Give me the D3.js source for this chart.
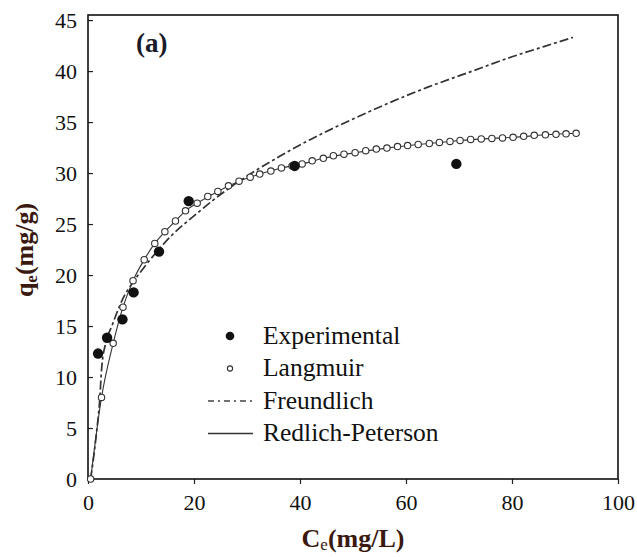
<!DOCTYPE html>
<html>
<head>
<meta charset="utf-8">
<script src="https://cdn.jsdelivr.net/npm/d3@7"></script>
<style>
  body { margin: 0; background: #fff; }
</style>
</head>
<body>
<div id="chart"></div>
<script>
var FONT = "'Liberation Serif', 'DejaVu Serif', 'Times New Roman', Times, serif";

// experimental points
var expC = [1.9, 3.6, 6.5, 8.6, 13.4, 19.0, 39.0, 69.5];
var expQ = [12.3, 13.85, 15.65, 18.3, 22.3, 27.25, 30.7, 30.9];

// Langmuir fit (open circles)
var langC = [0.5, 2.55, 4.75, 6.6, 8.5, 10.6, 12.6, 14.5, 16.5, 18.4,
             20.6, 22.6, 24.5, 26.5, 28.5, 30.6, 32.4, 34.5, 36.5, 38.5,
             40.4, 42.3, 44.4, 46.3, 48.3, 50.4, 52.4, 54.4, 56.4, 58.4,
             60.3, 62.3, 64.4, 66.3, 68.3, 70.2, 72.2, 74.2, 76.2, 78.2,
             80.2, 82.2, 84.2, 86.3, 88.3, 90.2, 92.1];
var langQ = [0, 8.0, 13.3, 16.85, 19.45, 21.5, 23.1, 24.25, 25.3, 26.3,
             27.05, 27.7, 28.2, 28.75, 29.2, 29.6, 29.9, 30.2, 30.5, 30.7,
             30.9, 31.2, 31.45, 31.7, 31.85, 32.0, 32.2, 32.35, 32.45, 32.6,
             32.7, 32.8, 32.9, 33.0, 33.1, 33.2, 33.3, 33.35, 33.4, 33.45,
             33.5, 33.6, 33.7, 33.75, 33.8, 33.85, 33.9];

// Freundlich fit (dash-dot)
var frC = [0.5, 1.6, 2.2, 2.6, 3.5, 4.5, 6.5, 8.5, 10.5, 13, 16, 20, 25, 30,
           36, 42, 50, 56, 64, 72, 80, 86, 91.5];
var frQ = [0, 4.5, 7.7, 11.0, 13.6, 15.0, 17.6, 19.3, 20.7, 22.3, 24.0, 25.8,
           27.9, 29.7, 31.6, 33.3, 35.3, 36.7, 38.4, 39.9, 41.4, 42.4, 43.3];

// Redlich-Peterson fit (solid, runs through the Langmuir circles)
var rpC = [0.5, 2.55, 4.75, 6.6, 8.5, 10.6, 12.6, 14.5, 16.5, 18.4, 20.6,
           24.5, 28.5, 32.4, 36.5, 40.4, 44.4, 50.4, 56.4, 62.3, 68.3, 74.2,
           80.2, 86.3, 92.1];
var rpQ = [0, 8.0, 13.3, 16.85, 19.45, 21.5, 23.1, 24.25, 25.3, 26.3, 27.05,
           28.2, 29.2, 29.9, 30.5, 30.9, 31.45, 32.0, 32.45, 32.8, 33.1, 33.35,
           33.5, 33.75, 33.9];

var xTicks = [0, 20, 40, 60, 80, 100];
var yTicks = [0, 5, 10, 15, 20, 25, 30, 35, 40, 45];
var legendNames = ["Experimental", "Langmuir", "Freundlich", "Redlich-Peterson"];

var W = 637, H = 557;
var L = 88, R = 618, T = 15, B = 479;

var svg = d3.select("#chart").append("svg")
  .attr("width", W)
  .attr("height", H)
  .style("background", "#fff");

var x = d3.scaleLinear().domain([0, 100]).range([L, R]);
var y = d3.scaleLinear().domain([0, 45.5]).range([B, T]);

// axes
var xAxis = svg.append("g")
  .attr("transform", "translate(0," + B + ")")
  .call(d3.axisBottom(x).tickValues(xTicks).tickSizeInner(5).tickSizeOuter(0).tickPadding(10));
var yAxis = svg.append("g")
  .attr("transform", "translate(" + L + ",0)")
  .call(d3.axisLeft(y).tickValues(yTicks).tickSizeInner(-5).tickSizeOuter(0).tickPadding(12));

[xAxis, yAxis].forEach(function (a) {
  a.attr("font-family", null).attr("font-size", null);
  a.select(".domain").remove();
  a.selectAll(".tick line").attr("stroke", "#222").attr("stroke-width", 1.2);
  a.selectAll(".tick text")
    .style("font-family", FONT)
    .style("font-size", "22px")
    .attr("fill", "#111");
});
yAxis.selectAll(".tick text").attr("x", -11);

// frame
svg.append("rect")
  .attr("x", L).attr("y", T)
  .attr("width", R - L).attr("height", B - T)
  .attr("fill", "none")
  .attr("stroke", "#111")
  .attr("stroke-width", 1.6);

var plot = svg.append("g");

// Freundlich
var frData = frC.map(function (c, i) { return [c, frQ[i]]; });
plot.append("path")
  .datum(frData)
  .attr("d", d3.line().x(d => x(d[0])).y(d => y(d[1])).curve(d3.curveMonotoneX))
  .attr("fill", "none")
  .attr("stroke", "#333")
  .attr("stroke-width", 1.7)
  .attr("stroke-dasharray", "9,3,3,3");

// Redlich-Peterson
var rpData = rpC.map(function (c, i) { return [c, rpQ[i]]; });
plot.append("path")
  .datum(rpData)
  .attr("d", d3.line().x(d => x(d[0])).y(d => y(d[1])).curve(d3.curveMonotoneX))
  .attr("fill", "none")
  .attr("stroke", "#333")
  .attr("stroke-width", 1.1);

// Langmuir circles
var langData = langC.map(function (c, i) { return [c, langQ[i]]; });
plot.selectAll(".lang")
  .data(langData).enter()
  .append("circle")
  .attr("class", "lang")
  .attr("cx", d => x(d[0]))
  .attr("cy", d => y(d[1]))
  .attr("r", 3.2)
  .attr("fill", "#fff")
  .attr("stroke", "#333")
  .attr("stroke-width", 1.1);

// experimental
var expData = expC.map(function (c, i) { return [c, expQ[i]]; });
plot.selectAll(".exp")
  .data(expData).enter()
  .append("circle")
  .attr("class", "exp")
  .attr("cx", d => x(d[0]))
  .attr("cy", d => y(d[1]))
  .attr("r", 5.2)
  .attr("fill", "#111");

// legend
var legend = svg.append("g");
var LEG_Y0 = 336, LEG_DY = 32.5;
legendNames.forEach(function (name, i) {
  var ly = LEG_Y0 + i * LEG_DY;
  if (i == 0) {
    legend.append("circle").attr("cx", 230).attr("cy", ly).attr("r", 4.3).attr("fill", "#111");
  } else if (i == 1) {
    legend.append("circle").attr("cx", 230).attr("cy", ly).attr("r", 2.6)
      .attr("fill", "#fff").attr("stroke", "#333").attr("stroke-width", 1.1);
  } else if (i == 2) {
    legend.append("line").attr("x1", 208).attr("x2", 253).attr("y1", ly).attr("y2", ly)
      .attr("stroke", "#444").attr("stroke-width", 1.5).attr("stroke-dasharray", "6,4,2,4");
  } else {
    legend.append("line").attr("x1", 208).attr("x2", 253).attr("y1", ly).attr("y2", ly)
      .attr("stroke", "#333").attr("stroke-width", 1.3);
  }
  legend.append("text")
    .attr("x", 263)
    .attr("y", ly + 7.5)
    .style("font-family", FONT)
    .style("font-size", "25.5px")
    .attr("fill", "#111")
    .text(name);
});

// panel label
svg.append("text")
  .attr("x", 136).attr("y", 52)
  .style("font-family", FONT)
  .style("font-size", "27px")
  .style("font-weight", "bold")
  .attr("fill", "#1a1a2a")
  .text("(a)");

// axis titles
var xt = svg.append("text")
  .attr("x", 353).attr("y", 547)
  .attr("text-anchor", "middle")
  .style("font-family", FONT)
  .style("font-size", "26px")
  .style("font-weight", "bold")
  .attr("fill", "#3a1a10");
xt.append("tspan").text("C");
xt.append("tspan").attr("dy", 3).style("font-size", "17px").style("font-weight", "normal").text("e");
xt.append("tspan").attr("dy", -3).text("(mg/L)");

var yt = svg.append("text")
  .attr("transform", "translate(33,250) rotate(-90)")
  .attr("text-anchor", "middle")
  .style("font-family", FONT)
  .style("font-size", "26px")
  .style("font-weight", "bold")
  .attr("fill", "#3a1a10");
yt.append("tspan").text("q");
yt.append("tspan").attr("dy", 4).style("font-size", "17px").text("e");
yt.append("tspan").attr("dy", -4).text("(mg/g)");
</script>
</body>
</html>
